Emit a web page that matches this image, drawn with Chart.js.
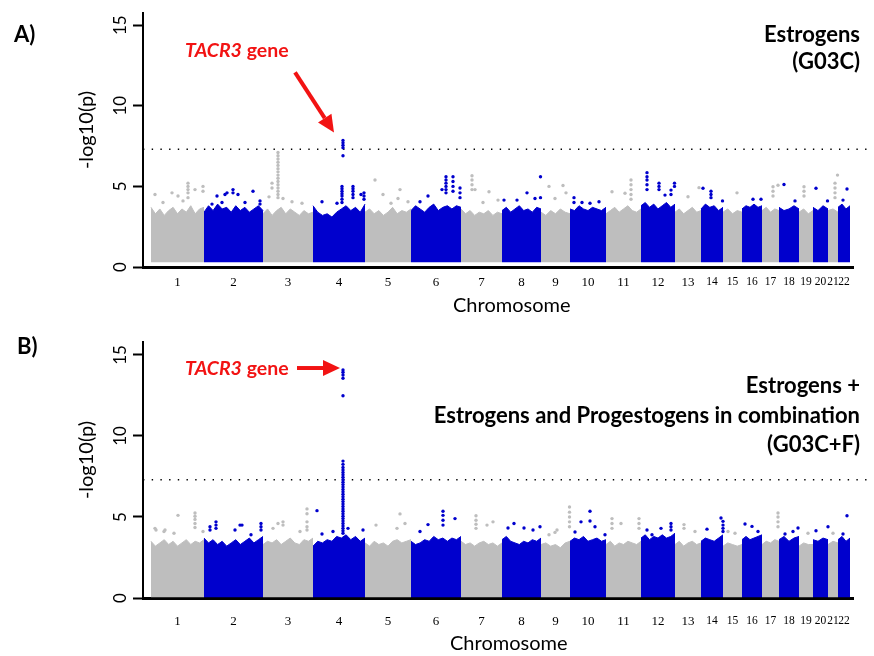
<!DOCTYPE html>
<html>
<head>
<meta charset="utf-8">
<script src="https://cdn.jsdelivr.net/npm/chart.js@4.4.0/dist/chart.umd.min.js"></script>
<style>
  body { margin: 0; background: #fff; }
  #page { position: relative; width: 874px; height: 656px; overflow: hidden; font-family: Lato, sans-serif; }
  .panel { position: absolute; left: 0; width: 874px; height: 328px; }
  .txt { position: absolute; white-space: nowrap; line-height: 1.2; color: #000; }
  .bold { font-weight: bold; font-size: 22px; }
  .right { right: 14px; text-align: right; }
  .gene { font-weight: bold; font-size: 19.5px; color: #f21313; left: 185px; }
  .xlab { font-size: 20px; }
  .ylab { font-size: 20px; transform: translate(-50%, -50%) rotate(-90deg); }
</style>
</head>
<body>
<div id="page">
  <div class="panel" style="top:0"><canvas id="chartA" width="874" height="328"></canvas></div>
  <div class="panel" style="top:328px"><canvas id="chartB" width="874" height="328"></canvas></div>

  <div class="txt bold" style="left:14px; top:21px">A)</div>
  <div class="txt bold right" style="top:21px">Estrogens</div>
  <div class="txt bold right" style="top:48px">(G03C)</div>
  <div class="txt gene" style="top:37.5px"><i>TACR3</i> gene</div>
  <div class="txt ylab" style="left:85px; top:130px">-log10(p)</div>
  <div class="txt xlab" style="left:453px; top:292px">Chromosome</div>

  <div class="txt bold" style="left:17px; top:333px">B)</div>
  <div class="txt bold right" style="top:372px">Estrogens +</div>
  <div class="txt bold right" style="top:401.5px">Estrogens and Progestogens in combination</div>
  <div class="txt bold right" style="top:431px">(G03C+F)</div>
  <div class="txt gene" style="top:356px"><i>TACR3</i> gene</div>
  <div class="txt ylab" style="left:85px; top:460px">-log10(p)</div>
  <div class="txt xlab" style="left:450px; top:630px">Chromosome</div>
</div>

<script>
const chromosomes = ["1","2","3","4","5","6","7","8","9","10","11","12","13","14","15","16","17","18","19","20","21","22"];
// width of each chromosome block on the x axis (SNP positions)
const chrSpan = [53, 59, 50, 52, 46, 50, 41, 39, 29, 36, 35, 34, 26, 22, 19, 20, 17, 20, 14, 15, 10, 12];
const threshold = 7.3;

// upper edge of the dense band of SNPs, sampled evenly along each chromosome
const bandA = [
  [3.7, 3.3, 3.6, 3.2, 3.5, 3.7, 3.3, 3.6, 3.4, 3.8, 3.3, 3.6, 3.7],
  [3.4, 3.8, 3.5, 3.9, 3.6, 3.7, 3.4, 3.8, 3.5, 3.7, 3.4, 3.6, 3.8, 3.5],
  [3.3, 3.6, 3.2, 3.5, 3.7, 3.3, 3.6, 3.4, 3.2, 3.5, 3.3, 3.4],
  [3.8, 3.4, 3.2, 3.3, 3.1, 3.4, 3.6, 3.8, 3.5, 3.7, 3.4, 3.9],
  [3.4, 3.6, 3.3, 3.5, 3.2, 3.4, 3.7, 3.3, 3.5, 3.4, 3.6],
  [3.5, 3.8, 3.6, 3.4, 3.7, 3.9, 3.5, 3.7, 3.8, 3.6, 3.8, 3.7],
  [3.6, 3.3, 3.5, 3.2, 3.4, 3.3, 3.5, 3.2, 3.4, 3.3],
  [3.5, 3.7, 3.4, 3.6, 3.8, 3.5, 3.6, 3.4, 3.7, 3.6],
  [3.4, 3.2, 3.5, 3.3, 3.6, 3.4, 3.3],
  [3.6, 3.5, 3.8, 3.6, 3.5, 3.7, 3.6, 3.5, 3.7],
  [3.3, 3.5, 3.7, 3.4, 3.6, 3.8, 3.5, 3.4, 3.6],
  [3.8, 4.0, 3.7, 3.9, 3.6, 3.8, 4.0, 3.7, 3.9],
  [3.4, 3.6, 3.3, 3.5, 3.7, 3.4, 3.5],
  [3.6, 3.9, 3.7, 3.8, 3.5, 3.7],
  [3.4, 3.6, 3.3, 3.5, 3.4],
  [3.6, 3.8, 3.7, 3.9, 3.7, 3.8],
  [3.5, 3.7, 3.4, 3.6, 3.5],
  [3.7, 3.5, 3.6, 3.8, 3.6],
  [3.4, 3.6, 3.3, 3.5],
  [3.7, 3.5, 3.8, 3.6],
  [3.5, 3.6, 3.4],
  [3.7, 3.9, 3.6, 3.8]
];
const bandB = [
  [3.5, 3.2, 3.4, 3.6, 3.3, 3.5, 3.2, 3.4, 3.6, 3.3, 3.5, 3.4, 3.6],
  [3.7, 3.4, 3.6, 3.3, 3.5, 3.2, 3.4, 3.6, 3.3, 3.5, 3.7, 3.4, 3.6, 3.8],
  [3.3, 3.5, 3.4, 3.6, 3.3, 3.5, 3.7, 3.4, 3.3, 3.6, 3.5, 3.7],
  [3.2, 3.5, 3.4, 3.6, 3.5, 3.8, 3.7, 3.9, 3.6, 3.8, 3.5, 3.7],
  [3.4, 3.2, 3.5, 3.3, 3.4, 3.2, 3.5, 3.6, 3.4, 3.5, 3.6],
  [3.5, 3.3, 3.4, 3.6, 3.5, 3.8, 3.6, 3.7, 3.5, 3.7, 3.6, 3.8],
  [3.5, 3.3, 3.4, 3.2, 3.4, 3.5, 3.3, 3.4, 3.2, 3.4],
  [3.6, 3.8, 3.5, 3.4, 3.3, 3.5, 3.4, 3.6, 3.5, 3.7],
  [3.3, 3.4, 3.2, 3.3, 3.1, 3.4, 3.5],
  [3.5, 3.7, 3.6, 3.8, 3.5, 3.6, 3.7, 3.5, 3.6],
  [3.3, 3.5, 3.2, 3.4, 3.3, 3.5, 3.4, 3.3, 3.5],
  [3.7, 3.9, 3.6, 3.8, 3.7, 3.9, 3.7, 3.8, 4.0],
  [3.3, 3.5, 3.2, 3.4, 3.5, 3.3, 3.4],
  [3.5, 3.7, 3.6, 3.5, 3.7, 3.9],
  [3.2, 3.4, 3.3, 3.2, 3.3],
  [3.6, 3.8, 3.6, 3.7, 3.8, 3.9],
  [3.3, 3.5, 3.4, 3.6, 3.5],
  [3.6, 3.8, 3.5, 3.7, 3.8],
  [3.2, 3.4, 3.3, 3.3],
  [3.6, 3.5, 3.7, 3.6],
  [3.3, 3.5, 3.4],
  [3.6, 3.8, 3.5, 3.7]
];

// SNPs standing out above the band: [chromosome, position within it, -log10(p) values]
const hitsA = [
  [1, 4, [4.5]], [1, 12, [4.0]], [1, 21, [4.6]], [1, 27, [4.4]], [1, 32, [4.1]], [1, 37, [5.2, 5.0, 4.8, 4.6, 4.3]], [1, 44, [4.8]], [1, 52, [5.0, 4.7]],
  [2, 8, [3.9]], [2, 13, [4.4]], [2, 18, [4.0]], [2, 21, [4.5]], [2, 23, [4.6]], [2, 29, [4.8, 4.6]], [2, 34, [4.5]], [2, 41, [4.0]], [2, 49, [4.7]], [2, 56, [4.1, 3.9]],
  [3, 6, [4.35]], [3, 9, [5.2, 4.9]], [3, 15, [7.1, 6.9, 6.7, 6.5, 6.3, 6.1, 5.9, 5.7, 5.5, 5.3, 5.1, 4.9, 4.7, 4.5, 4.3]], [3, 20, [4.25]], [3, 29, [4.05]], [3, 39, [3.95]],
  [4, 9, [4.05]], [4, 24, [3.95]], [4, 29, [5.0, 4.85, 4.7, 4.55, 4.4, 4.2, 4.0]], [4, 30, [7.85, 7.7, 7.55, 7.4, 6.9]], [4, 40, [5.0, 4.85, 4.7, 4.5, 4.3]], [4, 48, [4.5]], [4, 51, [4.6, 4.4, 4.2]],
  [5, 10, [5.4]], [5, 18, [4.5]], [5, 26, [3.95]], [5, 33, [4.25]], [5, 35, [4.8]], [5, 43, [4.05]],
  [6, 9, [4.05]], [6, 17, [4.4]], [6, 31, [4.8]], [6, 35, [5.6, 5.4, 5.2, 5.0, 4.8, 4.6]], [6, 42, [5.6, 5.3, 5.0, 4.7]], [6, 49, [4.9, 4.6, 4.3]],
  [7, 11, [5.66, 5.4, 5.1, 4.8]], [7, 14, [4.8]], [7, 22, [4.0]], [7, 28, [4.67]], [7, 37, [4.15]],
  [8, 2, [4.15]], [8, 15, [4.15]], [8, 25, [4.6]], [8, 33, [4.25]], [8, 38.5, [5.6, 4.3]],
  [9, 8, [5.0]], [9, 14, [4.25]], [9, 22, [5.05]], [9, 25, [4.6]],
  [10, 4, [4.3, 4.0]], [10, 12, [4.0]], [10, 20, [3.95]], [10, 29, [4.05]],
  [11, 6, [4.67]], [11, 19, [4.57]], [11, 25, [5.4, 5.1, 4.8, 4.5, 4.2]],
  [12, 6, [5.85, 5.6, 5.4, 5.1, 4.8]], [12, 18, [5.2, 5.0, 4.8]], [12, 24, [4.46]], [12, 30, [4.77, 4.5]], [12, 33.5, [5.2, 5.0]],
  [13, 13, [4.36]], [13, 24, [4.92]],
  [14, 2, [4.88]], [14, 10, [4.7, 4.5, 4.3]], [14, 21.5, [4.1]],
  [15, 14, [4.6]],
  [16, 11, [4.2]], [16, 19, [4.2]],
  [17, 11, [4.98, 4.7, 4.4]], [17, 16, [5.07]],
  [18, 5, [5.12]], [18, 16, [4.1]],
  [19, 5, [4.98, 4.7, 4.4]],
  [20, 3, [4.88]], [20, 14.5, [4.1]],
  [21, 7, [5.2, 4.9, 4.6, 4.3]], [21, 9.5, [5.7]],
  [22, 5, [4.15]], [22, 9, [4.84]]
];
const hitsB = [
  [1, 4, [4.3]], [1, 5, [4.2]], [1, 13, [4.1]], [1, 14, [4.2]], [1, 23, [4.0]], [1, 27, [5.1]], [1, 44, [5.25, 5.05, 4.85, 4.6, 4.35]], [1, 52, [4.1]],
  [2, 6, [4.4, 4.2]], [2, 12, [4.7, 4.5, 4.3]], [2, 31, [4.2]], [2, 36, [4.5]], [2, 38, [4.5]], [2, 47, [3.9]], [2, 57, [4.6, 4.4, 4.2]],
  [3, 10, [4.3]], [3, 15, [4.6]], [3, 20, [4.7, 4.5]], [3, 37, [4.1]], [3, 44, [5.5, 5.2, 4.7, 4.4, 4.2]],
  [4, 4, [5.39]], [4, 9, [3.95]], [4, 20, [4.1]],
  [4, 30, [14.07, 13.93, 13.76, 13.56, 12.48, 8.45, 8.25, 8.05, 7.9, 7.75, 7.6, 7.45, 7.3, 7.15, 7.0, 6.85, 6.7, 6.55, 6.4, 6.25, 6.1, 5.95, 5.8, 5.65, 5.5, 5.35, 5.2, 5.05, 4.9, 4.75, 4.6, 4.45, 4.3, 4.15, 4.0]],
  [4, 35, [4.3]], [4, 50, [4.2]],
  [5, 11, [4.5]], [5, 32, [4.3]], [5, 35, [5.19]], [5, 40, [4.6]],
  [6, 9, [4.1]], [6, 17, [4.53]], [6, 32, [5.35, 5.1, 4.8, 4.5]], [6, 44, [4.9]],
  [7, 15, [5.08, 4.8, 4.55, 4.3]], [7, 26, [4.5]], [7, 32, [4.7]],
  [8, 6, [4.32]], [8, 12, [4.6]], [8, 22, [4.32]], [8, 31, [4.2]], [8, 38, [4.4]],
  [9, 8, [3.9]], [9, 14, [4.05]], [9, 16, [4.2]], [9, 28.5, [5.62, 5.3, 5.0, 4.7, 4.4]],
  [10, 5, [4.07]], [10, 11, [4.7]], [10, 20, [5.35, 4.75]], [10, 25, [4.4]], [10, 35, [3.9]],
  [11, 6, [4.9, 4.6, 4.3]], [11, 15, [4.6]], [11, 33, [4.9, 4.6, 4.3]],
  [12, 6, [4.2]], [12, 11, [3.9]], [12, 20, [4.3]], [12, 30, [4.6, 4.4, 4.2]],
  [13, 9, [4.53, 4.3]], [13, 20, [4.1]],
  [14, 6, [4.25]], [14, 20, [4.94]], [14, 22, [4.73, 4.5, 4.3, 4.1]],
  [15, 5, [4.1]], [15, 12, [4.0]],
  [16, 3, [4.57]], [16, 10, [4.42]], [16, 16, [4.1]],
  [17, 16, [5.25, 5.0, 4.7, 4.4]],
  [18, 6, [3.95]], [18, 14, [4.1]], [18, 19, [4.32]],
  [19, 9, [4.0]],
  [20, 3, [4.15]], [20, 15, [4.4]],
  [21, 5, [4.0]],
  [22, 5, [3.95]], [22, 9, [5.08]]
];

const GREY = "#bebebe";
const BLUE = "#0000cd";

const chrStart = [];
let acc = 0;
chrSpan.forEach(s => { chrStart.push(acc); acc += s; });
const chrCenter = chrStart.map((s, i) => s + chrSpan[i] / 2);
const colorOf = i => (i % 2 === 0 ? GREY : BLUE);

function bandDatasets(band, base) {
  return band.map((vals, i) => ({
    data: vals.map((v, k) => ({ x: chrStart[i] + chrSpan[i] * k / (vals.length - 1), y: v })),
    showLine: true,
    fill: { value: base },
    backgroundColor: colorOf(i),
    borderColor: colorOf(i),
    borderWidth: 1,
    pointRadius: 0,
    order: 3
  }));
}

function hitDatasets(hits) {
  const odd = [], even = [];
  hits.forEach(([c, off, vals]) => {
    vals.forEach(v => (c % 2 ? odd : even).push({ x: chrStart[c - 1] + off, y: v }));
  });
  return [odd, even].map((pts, j) => ({
    data: pts,
    backgroundColor: j === 0 ? GREY : BLUE,
    borderWidth: 0,
    pointRadius: 1.7,
    order: 1
  }));
}

// arrow from the label to the top SNP of chromosome 4
const arrowPlugin = {
  id: "geneArrow",
  afterDraw(chart, args, opts) {
    const { ctx, scales } = chart;
    const tipX = scales.x.getPixelForValue(opts.peak[0]) + opts.tip[0];
    const tipY = scales.y.getPixelForValue(opts.peak[1]) + opts.tip[1];
    const tailX = tipX + opts.tail[0], tailY = tipY + opts.tail[1];
    const ang = Math.atan2(tipY - tailY, tipX - tailX);
    const headLen = 17, headW = 8;
    const bx = tipX - headLen * Math.cos(ang), by = tipY - headLen * Math.sin(ang);
    ctx.save();
    ctx.strokeStyle = "#f21313";
    ctx.fillStyle = "#f21313";
    ctx.lineWidth = 4;
    ctx.beginPath();
    ctx.moveTo(tailX, tailY);
    ctx.lineTo(bx, by);
    ctx.stroke();
    ctx.beginPath();
    ctx.moveTo(tipX, tipY);
    ctx.lineTo(bx + headW * Math.sin(ang), by - headW * Math.cos(ang));
    ctx.lineTo(bx - headW * Math.sin(ang), by + headW * Math.cos(ang));
    ctx.closePath();
    ctx.fill();
    ctx.restore();
  }
};

function makeChart(id, cfg) {
  const datasets = [
    ...hitDatasets(cfg.hits),
    {
      data: [{ x: -8, y: threshold }, { x: 721, y: threshold }],
      showLine: true,
      borderColor: "#000",
      borderWidth: 1.4,
      borderDash: [1.4, 7.3],
      pointRadius: 0,
      clip: false,
      order: 2
    },
    ...bandDatasets(cfg.band, cfg.base)
  ];

  return new Chart(document.getElementById(id), {
    type: "scatter",
    data: { datasets },
    plugins: [arrowPlugin],
    options: {
      responsive: false,
      animation: false,
      events: [],
      layout: { padding: { left: 0, right: 21, top: cfg.top, bottom: 0 } },
      plugins: {
        legend: { display: false },
        tooltip: { enabled: false },
        geneArrow: { peak: cfg.peak, tip: cfg.tip, tail: cfg.tail }
      },
      scales: {
        x: {
          type: "linear",
          min: -8,
          max: 702,
          afterBuildTicks: s => { s.ticks = chrCenter.map(v => ({ value: v })); },
          afterFit: s => { s.height = cfg.xHeight; },
          grid: { drawOnChartArea: false, drawTicks: false },
          border: { color: "#000", width: 3 },
          ticks: {
            autoSkip: false,
            maxRotation: 0,
            padding: cfg.xPad,
            color: "#000",
            callback: (v, i) => chromosomes[i],
            font: c => ({ family: "'Liberation Serif', serif", size: c.index >= 13 ? 11.5 : 13 })
          }
        },
        y: {
          min: 0,
          max: cfg.yMax,
          afterFit: s => { s.width = 143; },
          grid: { drawOnChartArea: false, tickLength: 10, tickWidth: 2, tickColor: "#000" },
          border: { color: "#000", width: 2 },
          ticks: {
            stepSize: 5,
            includeBounds: false,
            minRotation: 90,
            maxRotation: 90,
            crossAlign: "center",
            padding: 3,
            color: "#000",
            font: { family: "Lato, sans-serif", size: 17 }
          }
        }
      }
    }
  });
}

makeChart("chartA", {
  band: bandA, hits: hitsA, base: 0.3,
  top: 13, xHeight: 61, xPad: 8, yMax: 15.74,
  peak: [chrStart[3] + 30, 7.85], tip: [-9, -8], tail: [-39, -60]
});
makeChart("chartB", {
  band: bandB, hits: hitsB, base: 0.05,
  top: 14, xHeight: 58, xPad: 16, yMax: 15.8,
  peak: [chrStart[3] + 30, 14.07], tip: [-3, -2], tail: [-43, 0]
});
</script>
</body>
</html>
